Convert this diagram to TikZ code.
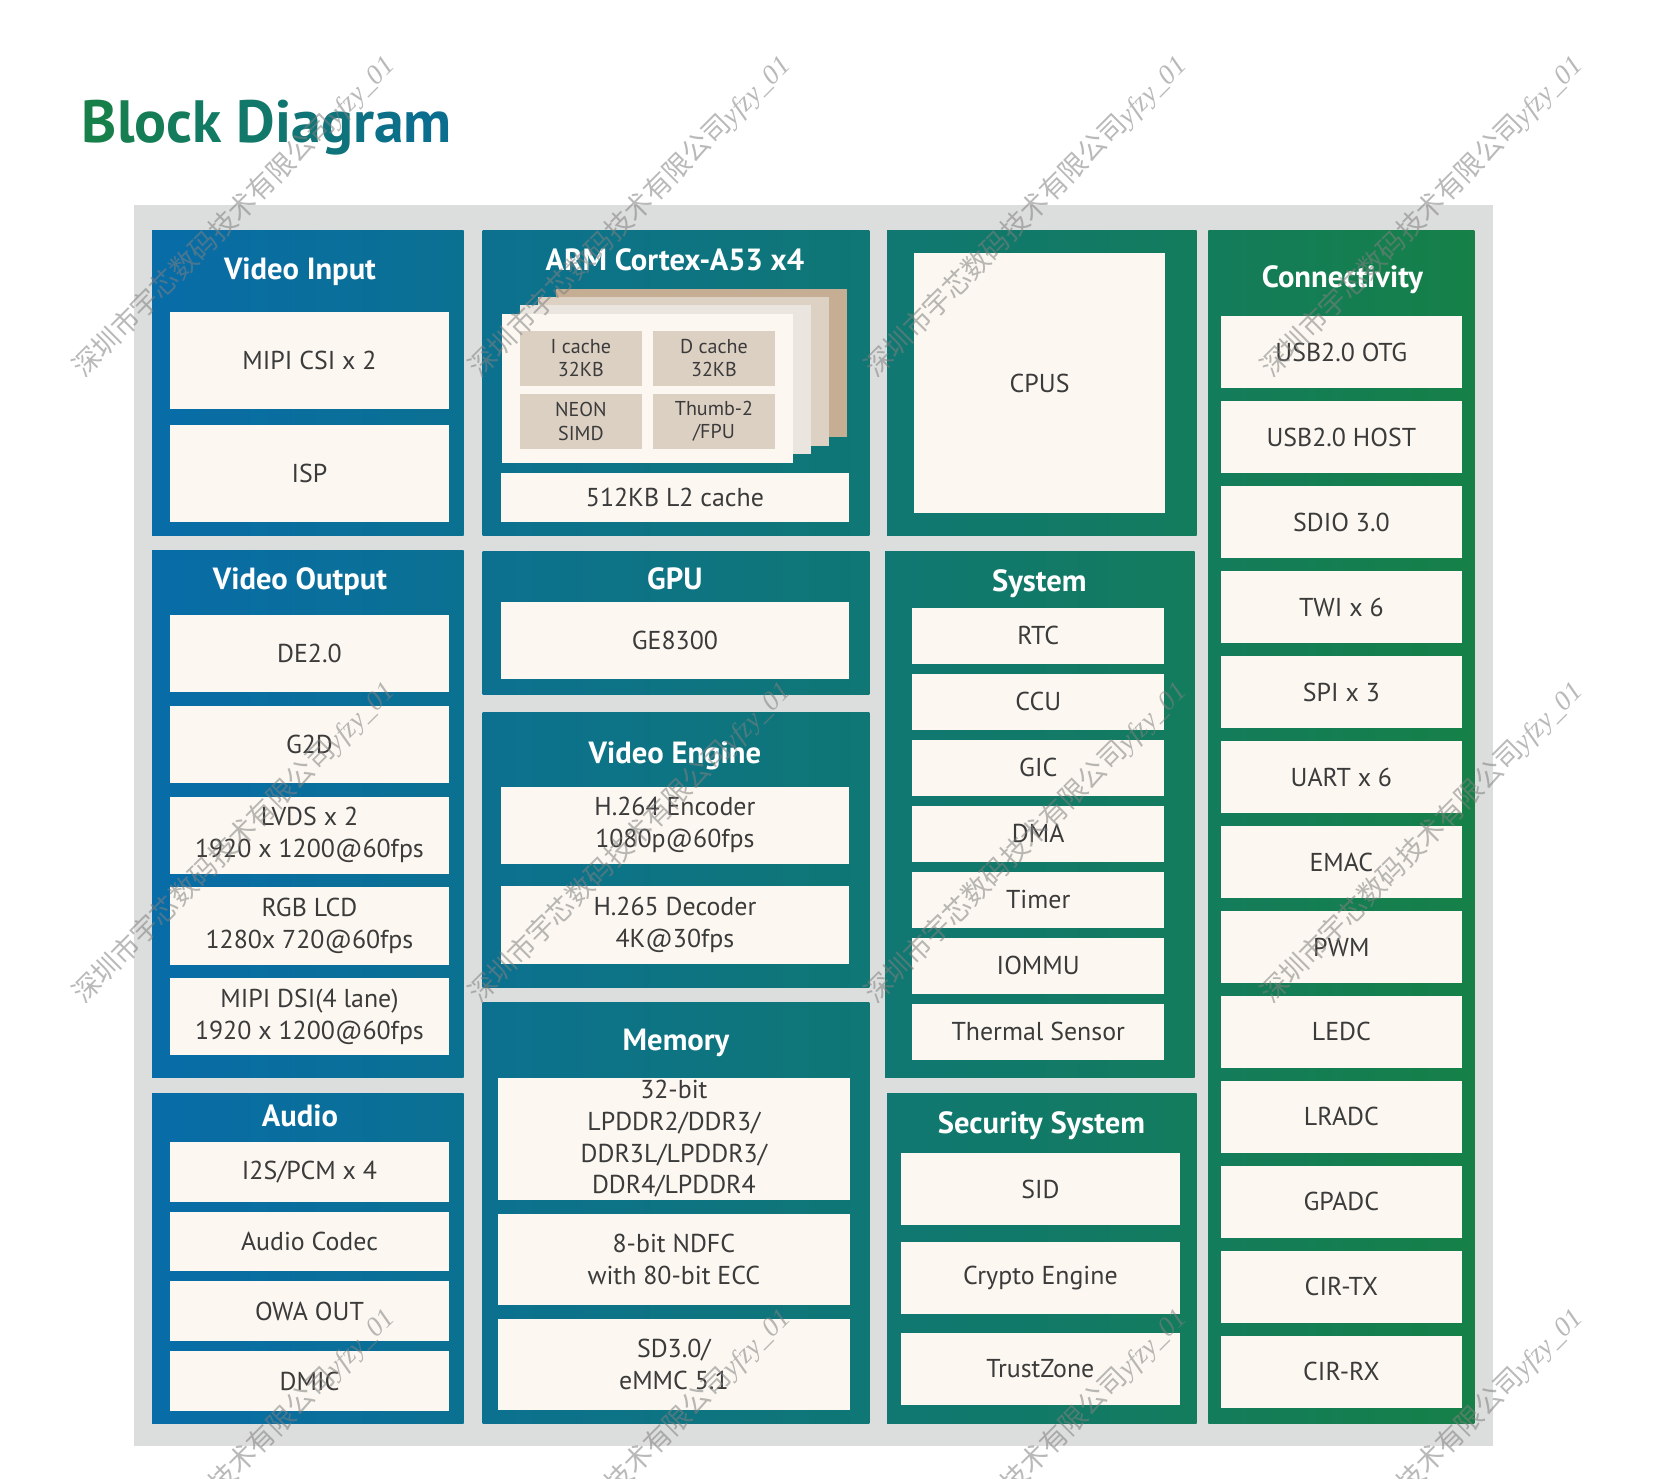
\documentclass[tikz,border=0pt]{standalone}
\usepackage{fontspec}
\setmainfont{PT Sans}
\newfontfamily\cjkfont{Noto Sans CJK SC}
\newfontfamily\wmlatin{Liberation Serif}
\usetikzlibrary{fit}
\definecolor{bdblue}{HTML}{086CA8}
\definecolor{bdgreen}{HTML}{168048}
\definecolor{bgrey}{HTML}{DCDDDD}
\definecolor{cream}{HTML}{FCF8F1}
\definecolor{labelgrey}{HTML}{3B3B3B}
\definecolor{cardB}{HTML}{EAE5DF}
\definecolor{cardC}{HTML}{DDD1C4}
\definecolor{cardD}{HTML}{C5AE94}
\definecolor{cellA}{HTML}{DCD0C3}
\definecolor{ttlgreen}{HTML}{17804A}
\definecolor{ttlblue}{HTML}{0C6E8F}
\tikzstyle{board}=[rectangle,fill=bgrey,inner sep=0pt,outer sep=0pt]
\tikzstyle{panel}=[rectangle,inner sep=0pt,outer sep=0pt]
\tikzstyle{cell}=[rectangle,fill=cream,inner sep=0pt,text=labelgrey,align=center,font=\fontsize{24.5}{30}\selectfont]
\tikzstyle{small}=[rectangle,fill=cellA,inner sep=0pt,text=labelgrey,align=center,font=\fontsize{19}{22}\selectfont,minimum width=115pt,minimum height=52pt]
\tikzstyle{card}=[rectangle,inner sep=0pt,anchor=north west,minimum width=276pt,minimum height=141pt]
\tikzstyle{head}=[text=white,text height=20pt,text depth=0pt,font=\bfseries\fontsize{29}{34}\selectfont]
\tikzstyle{wmark}=[text=gray,opacity=0.55,rotate=45,font=\fontsize{26}{26}\selectfont]
\newcommand{\wmtext}{{\cjkfont 深圳市宇芯数码技术有限公司}{\wmlatin\itshape yfzy\_01}}

\begin{document}
\begin{tikzpicture}[x=1pt,y=-1pt]
	\useasboundingbox (0,0) rectangle (1566,1400);
	% Board and title
	\node[board, fit={(126.6,194) (1414,1369)}] (board) {};
	\node[anchor=base west, font=\bfseries\fontsize{56.5}{62}\selectfont] (title) at (74,134.6)
		{\textcolor{ttlgreen!100!ttlblue}{B}\textcolor{ttlgreen!91!ttlblue}{l}\textcolor{ttlgreen!82!ttlblue}{o}\textcolor{ttlgreen!73!ttlblue}{c}\textcolor{ttlgreen!64!ttlblue}{k} \textcolor{ttlgreen!55!ttlblue}{D}\textcolor{ttlgreen!45!ttlblue}{i}\textcolor{ttlgreen!36!ttlblue}{a}\textcolor{ttlgreen!27!ttlblue}{g}\textcolor{ttlgreen!18!ttlblue}{r}\textcolor{ttlgreen!9!ttlblue}{a}\textcolor{ttlgreen!0!ttlblue}{m}};

	% First we draw the shaded panels
	\foreach \xa/\ya/\xb/\yb/\lp/\rp/\name in {144/218/439/507/0/24/vin, 144/521/439/1020/0/24/vout, 144/1035/439/1348/0/24/aud,
		457/218/823/507/25/54/arm, 457/522/823/658/25/54/gpu, 457/675/823/935/25/54/veng, 457/949/823/1348/25/54/mem,
		840/218/1133/507/56/79/cpusp, 838/522/1131/1020/56/79/sys, 840/1035/1133/1348/56/79/sec,
		1144/218/1396/1348/80/100/conn}
	\node[panel, left color=bdgreen!\lp!bdblue, right color=bdgreen!\rp!bdblue, fit={(\xa,\ya) (\xb,\yb)}] (\name) {};

	% Panel headings
	\foreach \pos/\name/\txt in {{(284,255)/hvin/Video Input}, {(639,246)/harm/ARM Cortex-A53 x4}, {(1271,262)/hconn/Connectivity},
		{(284,548)/hvout/Video Output}, {(639,548)/hgpu/GPU}, {(984,550)/hsys/System}, {(639,712.6)/hveng/Video Engine},
		{(640,985)/hmem/Memory}, {(284,1057)/haud/Audio}, {(986,1063.6)/hsec/Security System}}
	\node[head] (\name) at \pos {\txt};

	% Core cards of the CPU cluster
	\foreach \pos/\col/\name in {{(526,273)/cardD/card3}, {(509,281)/cardC/card2}, {(492,289)/cardB/card1}, {(475,297)/cream/card0}}
	\node[card, fill=\col] (\name) at \pos {};
	\foreach \pos/\name/\txt in {{(550,339)/icache/{I cache\\32KB}}, {(676,339)/dcache/{D cache\\32KB}},
		{(550,399)/neon/{NEON\\SIMD}}, {(676,399)/thumb/{Thumb-2\\/FPU}}}
	\node[small] (\name) at \pos {\txt};
	\node[cell, minimum width=329pt, minimum height=46pt] (l2) at (639,471) {512KB L2 cache};

	% Then the blocks of each panel
	\foreach \y/\h/\name/\txt in {341/92/csi/{MIPI CSI x 2}, 448/92/isp/ISP}
	\node[cell, minimum width=264pt, minimum height=\h pt] (\name) at (293,\y) {\txt};

	\foreach \y/\name/\txt in {618.7/de/DE2.0, 704.7/gtwod/G2D, 790.7/lvds/{LVDS x 2\\1920 x 1200@60fps},
		876.7/rgb/{RGB LCD\\1280x 720@60fps}, 962.7/dsi/{MIPI DSI(4 lane)\\1920 x 1200@60fps}}
	\node[cell, minimum width=264pt, minimum height=73pt] (\name) at (293,\y) {\txt};

	\foreach \y/\name/\txt in {1109.5/itwos/{I2S/PCM x 4}, 1175.5/codec/Audio Codec, 1241.5/owa/OWA OUT, 1307.5/dmic/DMIC}
	\node[cell, minimum width=264pt, minimum height=56.6pt] (\name) at (293,\y) {\txt};

	\foreach \y/\name/\txt in {606/ge/GE8300, 781.3/enc/{H.264 Encoder\\1080p@60fps}, 875.8/dec/{H.265 Decoder\\4K@30fps}}
	\node[cell, minimum width=330pt, minimum height=73pt] (\name) at (639,\y) {\txt};

	\foreach \y/\h/\name/\txt in {1078.4/115/dram/{32-bit\\LPDDR2/DDR3/\\DDR3L/LPDDR3/\\DDR4/LPDDR4},
		1192.7/86/ndfc/{8-bit NDFC\\with 80-bit ECC}, 1292/86/sdmmc/{SD3.0/\\eMMC 5.1}}
	\node[cell, minimum width=333pt, minimum height=\h pt] (\name) at (638,\y) {\txt};

	\node[cell, minimum width=237.4pt, minimum height=246pt] (cpus) at (984.3,363) {CPUS};

	\foreach \y/\name/\txt in {602/rtc/RTC, 664.5/ccu/CCU, 727/gic/GIC, 789.5/dma/DMA, 852/timer/Timer, 914.5/iommu/IOMMU, 977/ths/Thermal Sensor}
	\node[cell, minimum width=239pt, minimum height=53pt] (\name) at (983,\y) {\txt};

	\foreach \y/\name/\txt in {1126/sid/SID, 1210/crypto/Crypto Engine, 1296/tzone/TrustZone}
	\node[cell, minimum width=263.6pt, minimum height=68pt] (\name) at (985,\y) {\txt};

	\foreach \y/\name/\txt in {333.4/otg/USB2.0 OTG, 413.9/host/USB2.0 HOST, 494.3/sdio/SDIO 3.0, 574.8/twi/TWI x 6,
		655.2/spi/SPI x 3, 735.7/uart/UART x 6, 816.1/emac/EMAC, 896.6/pwm/PWM, 977/ledc/LEDC, 1057.5/lradc/LRADC,
		1137.9/gpadc/GPADC, 1218.4/cirtx/CIR-TX, 1298.8/cirrx/CIR-RX}
	\node[cell, minimum width=228pt, minimum height=68pt] (\name) at (1270,\y) {\txt};

	% Watermark on top
	\foreach \i in {0,...,3}
		\foreach \j in {0,...,2}
		\node[wmark] (wm\i\j) at ({221.5+375*\i},{205+593*\j}) {\wmtext};
\end{tikzpicture}
\end{document}
